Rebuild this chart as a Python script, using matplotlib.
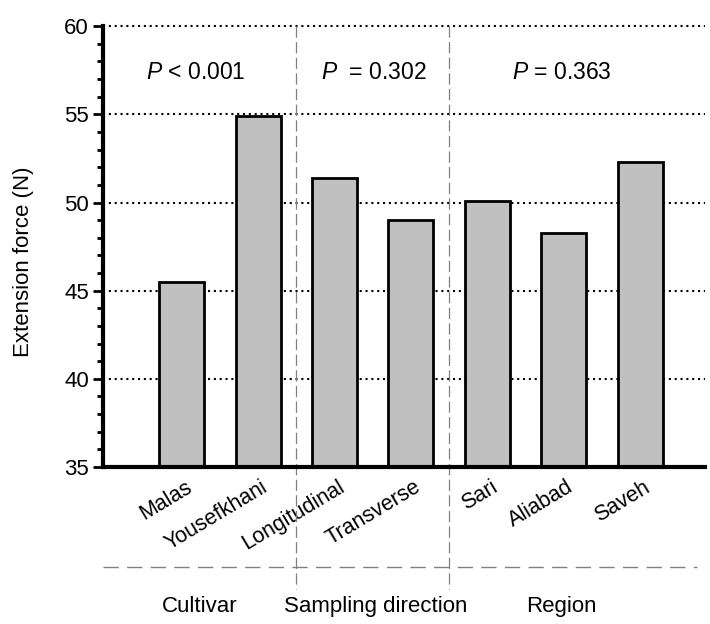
import numpy as np
import matplotlib
matplotlib.use('Agg')
import matplotlib.pyplot as plt
import matplotlib.transforms as mtrans
from matplotlib.ticker import MultipleLocator

plt.rcParams['font.family'] = ['Liberation Sans', 'DejaVu Sans']
plt.rcParams['mathtext.fontset'] = 'custom'
plt.rcParams['mathtext.it'] = 'Liberation Sans:italic'
plt.rcParams['mathtext.rm'] = 'Liberation Sans'

#- Data
labels = ['Malas', 'Yousefkhani', 'Longitudinal', 'Transverse', 'Sari', 'Aliabad', 'Saveh']
force = [45.5, 54.9, 51.4, 49.0, 50.1, 48.25, 52.3]
groups = ['Cultivar', 'Sampling direction', 'Region']
group_x = [0.24, 2.54, 4.97]
p_texts = [r'$P$ < 0.001', r'$P$  = 0.302', r'$P$ = 0.363']
p_x = [0.19, 2.52, 4.97]
separators = [1.5, 3.5]

x = np.arange(len(labels))

fig = plt.figure(figsize=(7.1, 6.24), dpi=100)
ax = fig.add_axes([0.145, 0.2516, 0.848, 0.7064])

ax.bar(x, force, width=0.59, color='#c0c0c0', edgecolor='black',
       linewidth=2, zorder=3)

ax.set_xlim(-1.03, 6.85)
ax.set_ylim(35, 60)
ax.yaxis.set_major_locator(MultipleLocator(5))
ax.yaxis.set_minor_locator(MultipleLocator(1))

#- dotted grid lines (not at the baseline)
for yv in [40, 45, 50, 55, 60]:
    ax.axhline(yv, color='black', linestyle=(0, (1, 1.8)), linewidth=1.5,
               zorder=1, clip_on=False)

for s in ['top', 'right']:
    ax.spines[s].set_visible(False)
for s in ['left', 'bottom']:
    ax.spines[s].set_linewidth(3)
    ax.spines[s].set_zorder(4)

ax.tick_params(axis='y', which='major', length=7, width=2, labelsize=16, pad=3)
ax.tick_params(axis='y', which='minor', length=4, width=2)
ax.tick_params(axis='x', length=0, pad=7)
ax.set_xticks(x)
ax.set_xticklabels(labels, rotation=31, ha='right', va='top',
                   rotation_mode='anchor', fontsize=15.5)
offset = mtrans.ScaledTranslation(0.03, 0, fig.dpi_scale_trans)
for t in ax.get_xticklabels():
    t.set_transform(t.get_transform() + offset)

ax.set_ylabel('Extension force (N)', fontsize=16)
ax.yaxis.set_label_coords(-0.115, 0.465)

#- group separators outside the axes
for sx in separators:
    ax.plot([sx, sx], [60, 28.1], color='#808080', linestyle=(0, (9, 3.5)),
            linewidth=0.9, clip_on=False, zorder=2)
ax.plot([-1.03, 6.75], [29.33, 29.33], color='#808080', linestyle=(0, (11, 6)),
        linewidth=1.0, clip_on=False)

for gx, g in zip(group_x, groups):
    ax.text(gx, 27.1, g, ha='center', va='center', fontsize=16)

for px, p in zip(p_x, p_texts):
    ax.text(px, 57.4, p, ha='center', va='center', fontsize=16.5)

plt.savefig('out.png', dpi=100)
